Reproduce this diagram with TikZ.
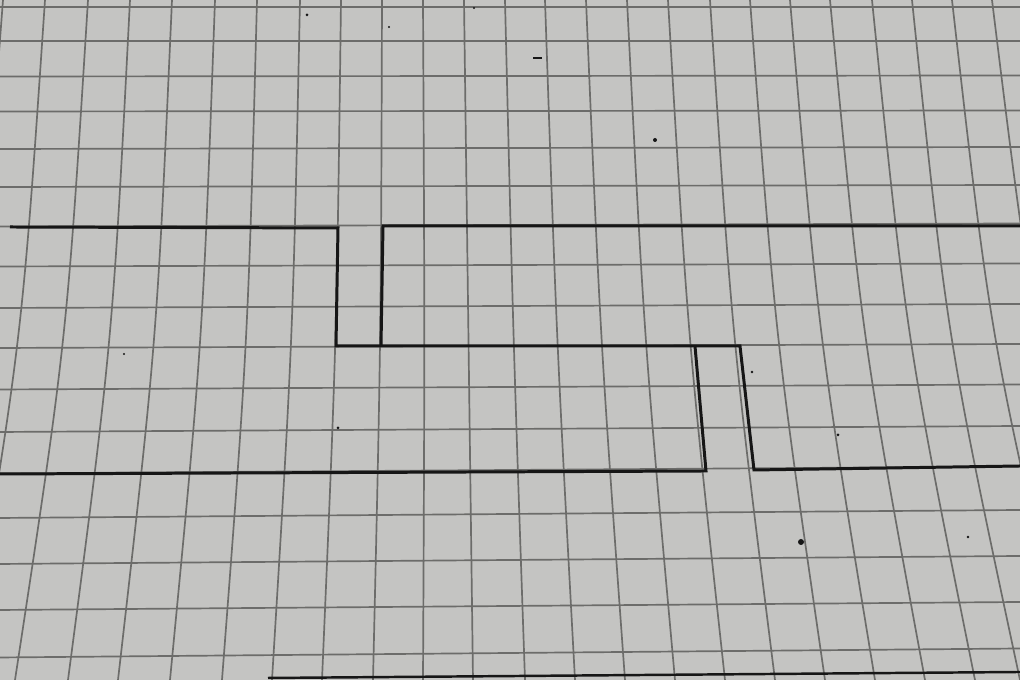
\documentclass[tikz,border=0pt]{standalone}
\usepackage{tikz}
\usetikzlibrary{calc}

\definecolor{paper}{RGB}{196,196,194}
\definecolor{gridgray}{RGB}{108,108,106}
\definecolor{pencil}{RGB}{22,22,22}

\tikzset{
    gridline/.style={color=gridgray, line width=0.48pt},
    pencilline/.style={color=pencil, line width=0.85pt, line join=miter},
    speck/.style={fill=pencil}
}

\begin{document}
\begin{tikzpicture}[x=0.01cm, y=-0.01cm]

    % ================= Paper =================
    \fill[paper] (0,0) rectangle (1020,680);
    \useasboundingbox (0,0) rectangle (1020,680);

    \begin{scope}
        \clip (0,0) rectangle (1020,680);

        % Grid, vertical lines (top x / bottom x, slightly bowed by the lens)
        \foreach \t/\b [count=\k from 0] in {3/-86, 45/-35, 88/15, 130/68, 172/118, 215/170,
                257/222, 300/272, 341/322, 382/373, 423/423, 464/473, 505/525, 545/575,
                586/625, 627/675, 668/725, 710/775, 750/825, 790/875, 830/925, 872/975,
                912/1020, 952/1070, 992/1120, 1032/1170} {
            \pgfmathsetmacro\bow{-1.7*(\k-11)}
            \draw[gridline] (\t,0) .. controls ({(\t+\b)/2+\bow},340) .. (\b,680);
        }

        % Grid, horizontal lines
        \foreach \y/\d in {7/0, 41/0, 76/0.5, 111/0.5, 148/1, 186/1, 225/1.5, 265/1.5,
                           306/2, 346/2, 387/2.5, 429/3, 470/3.5, 514/4, 560/4, 606/4, 653/4.5} {
            \draw[gridline] (0,{\y+\d}) -- (1020,{\y-\d});
        }

        % Edge line at the bottom
        \draw[pencil, line width=0.7pt] (268,678) -- (1020,672);

        % Specks
        \fill[speck] (801,542) circle (3);
        \fill[speck] (655,140) circle (2);
        \fill[speck] (307,15) circle (1.5);
        \fill[speck] (389,27) circle (1.2);
        \fill[speck] (474,8) circle (1.2);
        \fill[speck] (533,57) rectangle (542,59);
        \fill[speck] (338,428) circle (1.5);
        \fill[speck] (838,435) circle (1.5);
        \fill[speck] (752,372) circle (1.3);
        \fill[speck] (968,537) circle (1.3);
        \fill[speck] (124,354) circle (1.2);
    \end{scope}

    % ================= Drawn outline =================
    % Upper band with the slot
    \draw[pencilline] (10,227) -- (338,228) -- (336,346) -- (740,346)
                      -- (754,470) -- (1020,466);
    \draw[pencilline] (381,346) -- (383,226) -- (1020,226);

    % Lower band
    \draw[pencilline] (695,346) -- (706,471) -- (0,474);

\end{tikzpicture}
\end{document}
